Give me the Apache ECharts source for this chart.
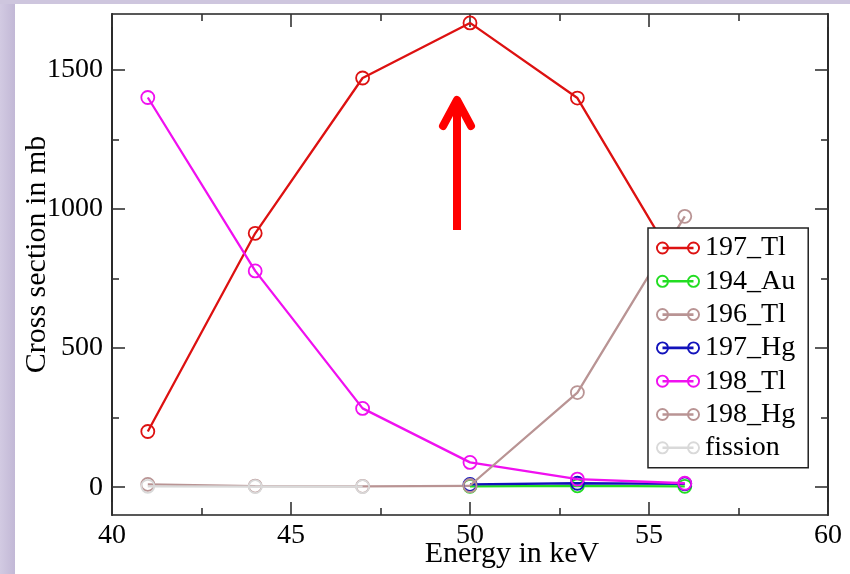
<!DOCTYPE html>
<html>
<head>
<meta charset="utf-8">
<script src="https://cdn.jsdelivr.net/npm/echarts@6/dist/echarts.min.js"></script>
<style>
  html, body { margin: 0; padding: 0; background: #fff; }
  #main { width: 850px; height: 574px; }
</style>
</head>
<body>
<div id="main"></div>
<script>
// 数据
var energy = [41, 44, 47, 50, 53, 56];
var tl197 = [200, 912, 1470, 1668, 1398, 750];
var au194 = [null, null, null, 3, 5, 3];
var tl196 = [10, 4, 3, 5, null, null];
var hg197 = [null, null, null, 10, 14, 12];
var tl198 = [1400, 777, 283, 89, 29, 14];
var hg198 = [null, null, null, 6, 340, 973];
var fission = [3, 2, 2, null, null, null];

var seriesNames = ['197_Tl', '194_Au', '196_Tl', '197_Hg', '198_Tl', '198_Hg', 'fission'];
var seriesValues = [tl197, au194, tl196, hg197, tl198, hg198, fission];
var seriesColors = ['#dd1111', '#22dd22', '#b99494', '#1212bb', '#f010f0', '#b99494', '#d9d9d9'];

var yLabels = [0, 500, 1000, 1500];
var yMinor = [250, 750, 1250];

var FONT = "'Liberation Serif', 'Times New Roman', serif";

// 图例图标: 两个空心圆 + 中间的线
var legendIcon = 'path://M0,6.5 A6.5,6.5 0 1,1 13,6.5 A6.5,6.5 0 1,1 0,6.5 Z M1.9,6.5 A4.6,4.6 0 1,0 11.1,6.5 A4.6,4.6 0 1,0 1.9,6.5 Z ' +
    'M31,6.5 A6.5,6.5 0 1,1 44,6.5 A6.5,6.5 0 1,1 31,6.5 Z M32.9,6.5 A4.6,4.6 0 1,0 42.1,6.5 A4.6,4.6 0 1,0 32.9,6.5 Z ' +
    'M6.5,5.2 L37.5,5.2 L37.5,7.8 L6.5,7.8 Z';

function pairs(vals) {
    var out = [];
    for (var i = 0; i < energy.length; i++) {
        if (vals[i] !== null) out.push([energy[i], vals[i]]);
    }
    return out;
}

var series = seriesNames.map(function (name, i) {
    return {
        name: name,
        type: 'line',
        data: pairs(seriesValues[i]),
        symbol: 'circle',
        symbolSize: 13,
        lineStyle: { color: seriesColors[i], width: 2.3 },
        itemStyle: { color: 'rgba(0,0,0,0)', borderColor: seriesColors[i], borderWidth: 1.8 },
        emphasis: { disabled: true },
        z: 2 + i * 0.1
    };
});

var tickStyle = { color: '#333', width: 1.6 };
var lineAx = { show: true, onZero: false, lineStyle: { color: '#222', width: 1.6 } };

function yAxisOf(pos, values, len, withLabel) {
    return {
        type: 'value',
        position: pos,
        min: -100,
        max: 1700,
        splitLine: { show: false },
        axisLine: lineAx,
        axisTick: { show: true, inside: true, length: len, customValues: values, lineStyle: tickStyle },
        axisLabel: withLabel ? {
            customValues: yLabels, margin: 9,
            formatter: function (v) { return String(v); },
            fontFamily: FONT, fontSize: 28, color: '#000'
        } : { show: false }
    };
}

var chart = echarts.init(document.getElementById('main'));
var leftY = yAxisOf('left', yLabels, 13, true);
leftY.name = 'Cross section in mb';
leftY.nameLocation = 'middle';
leftY.nameRotate = 90;
leftY.nameGap = 60;
leftY.nameMoveOverlap = false;
leftY.nameTextStyle = { fontFamily: FONT, fontSize: 30, color: '#000', padding: [0, 0, 0, 20] };

chart.setOption({
    backgroundColor: '#fff',
    animation: false,
    grid: { left: 112, right: 22, top: 14, bottom: 59, outerBoundsMode: 'none', containLabel: false },
    xAxis: [{
        type: 'value',
        position: 'bottom',
        min: 40, max: 60, interval: 5,
        splitLine: { show: false },
        axisLine: lineAx,
        axisTick: { inside: true, length: 13, lineStyle: tickStyle },
        minorTick: { show: true, splitNumber: 2, length: 7, lineStyle: tickStyle },
        axisLabel: { margin: 7, fontFamily: FONT, fontSize: 28, color: '#000' },
        name: 'Energy in keV',
        nameLocation: 'middle',
        nameGap: 24,
        nameMoveOverlap: false,
        nameTextStyle: { fontFamily: FONT, fontSize: 30, color: '#000', padding: [0, 0, 0, 84] }
    }, {
        type: 'value',
        position: 'top',
        min: 40, max: 60, interval: 5,
        splitLine: { show: false },
        axisLine: lineAx,
        axisTick: { inside: true, length: 13, lineStyle: tickStyle },
        minorTick: { show: true, splitNumber: 2, length: 7, lineStyle: tickStyle },
        axisLabel: { show: false }
    }],
    yAxis: [
        leftY,
        yAxisOf('left', yMinor, 7, false),
        yAxisOf('right', yLabels, 13, false),
        yAxisOf('right', yMinor, 7, false)
    ],
    legend: {
        orient: 'vertical',
        left: 648,
        top: 228,
        backgroundColor: '#fff',
        borderColor: '#222',
        borderWidth: 1.5,
        borderRadius: 0,
        padding: [6, 13, 6, 8],
        itemWidth: 44,
        itemHeight: 13,
        itemGap: 5.3,
        itemTextGap: 7,
        selectedMode: false,
        textStyle: { fontFamily: FONT, fontSize: 28, color: '#000', lineHeight: 28 },
        data: seriesNames.map(function (name, i) {
            return { name: name, icon: legendIcon, itemStyle: { color: seriesColors[i], borderWidth: 0 } };
        })
    },
    graphic: [
        // 幻灯片背景的紫色边
        {
            type: 'rect', left: 0, top: 0, z: 100,
            shape: { width: 15, height: 574 },
            style: { fill: new echarts.graphic.LinearGradient(0, 0, 1, 0, [
                { offset: 0, color: '#d2cae2' }, { offset: 1, color: '#c2b8d6' }]) }
        },
        {
            type: 'rect', left: 0, top: 0, z: 100,
            shape: { width: 850, height: 4 },
            style: { fill: '#cec6de' }
        },
        // 红色箭头
        {
            type: 'polyline', z: 100,
            shape: { points: [[457, 230], [457, 100]] },
            style: { stroke: '#ff0000', lineWidth: 8, fill: null }
        },
        {
            type: 'polyline', z: 100,
            shape: { points: [[443, 126], [457, 100], [471, 126]] },
            style: { stroke: '#ff0000', lineWidth: 8, fill: null, lineCap: 'round', lineJoin: 'round' }
        }
    ],
    series: series
});
</script>
</body>
</html>
